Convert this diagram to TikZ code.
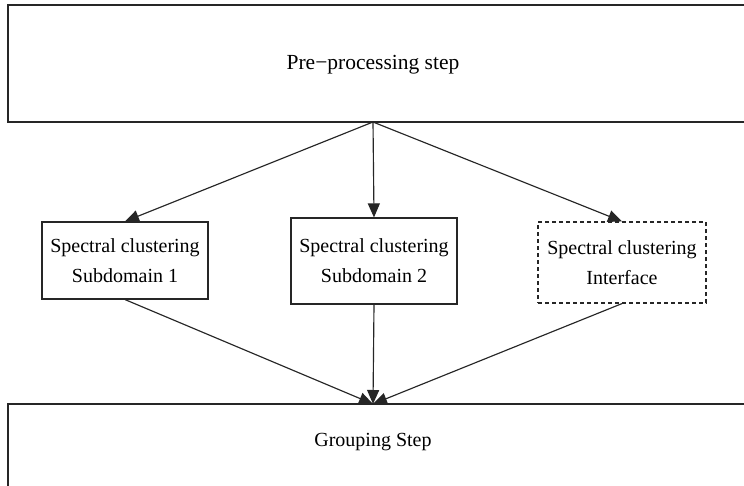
\documentclass[tikz,border=0pt]{standalone}
\usepackage{fontspec}
\setmainfont{Liberation Serif}
\usetikzlibrary{arrows.meta}
\begin{document}
\begin{tikzpicture}[x=1pt,y=-1pt,
  line width=1.15pt,
  boxstyle/.style={draw=black!85, rectangle, inner sep=0pt, align=center, font=\fontsize{20}{30}\selectfont},
  bigbox/.style={draw=black!85, rectangle, inner sep=0pt},
  lbl/.style={font=\fontsize{20}{24}\selectfont, inner sep=0pt},
  arr/.style={draw=black!85, -{Triangle[length=14pt,width=12pt]}}]
\clip (0,0) rectangle (744,485);
\useasboundingbox (0,0) rectangle (744,485);
\fill[white] (0,0) rectangle (744,485);
% big boxes
\node[bigbox, minimum width=772pt, minimum height=117pt] (top) at (394,63.5) {};
\node[lbl, font=\fontsize{21.5}{24}\selectfont] (toptext) at (373,65) {Pre−processing step};
\node[bigbox, minimum width=772pt, minimum height=120pt] (bottom) at (394,464) {};
\node[lbl] (bottomtext) at (373,442) {Grouping Step};
% middle boxes
\node[boxstyle, minimum width=166pt, minimum height=77pt] (s1) at (125,260.5) {Spectral clustering\\Subdomain 1};
\node[boxstyle, minimum width=166pt, minimum height=86pt] (s2) at (374,261) {Spectral clustering\\Subdomain 2};
\node[boxstyle, dashed, dash pattern=on 4pt off 3pt, minimum width=168pt, minimum height=81pt] (s3) at (622,262.5) {Spectral clustering\\Interface};
% coordinates
\coordinate (src) at (373,122);
\coordinate (sink) at (373,404);
% arrows
\draw[arr] (src) -- (s1.north);
\draw[arr] (src) -- (s2.north);
\draw[arr] (src) -- (s3.north);
\draw[arr] (s1.south) -- (sink);
\draw[arr] (s2.south) -- (sink);
\draw[arr] (s3.south) -- (sink);
\end{tikzpicture}
\end{document}
